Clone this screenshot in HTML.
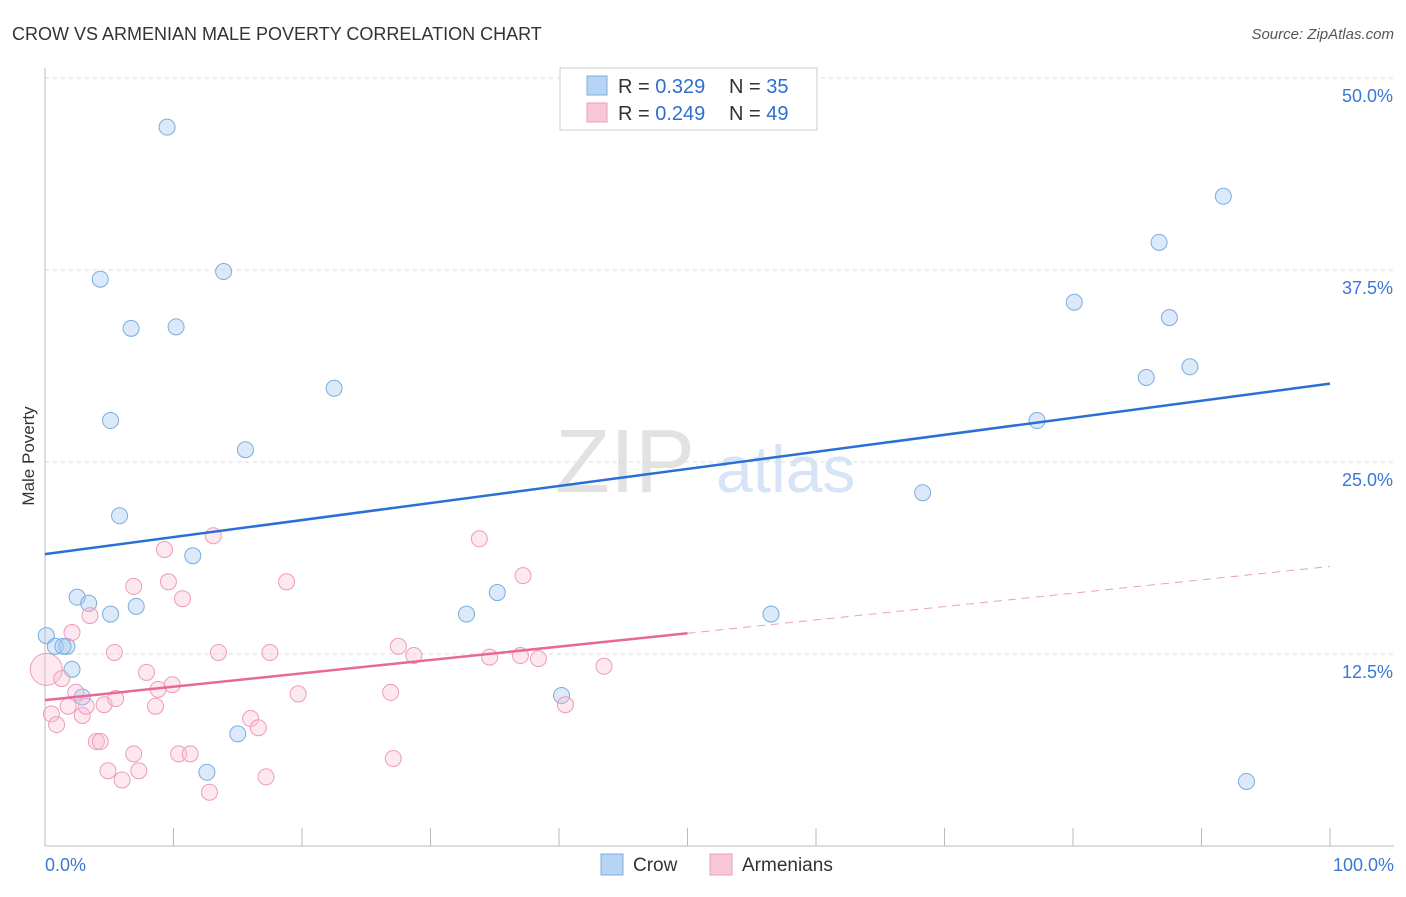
<!DOCTYPE html>
<html><head><meta charset="utf-8"><style>
body{margin:0;background:#fff;font-family:"Liberation Sans",sans-serif;}
svg text{font-family:"Liberation Sans",sans-serif;}
</style></head><body>
<svg id="chart" width="1406" height="892">
<text x="12" y="40" font-size="18" fill="#333">CROW VS ARMENIAN MALE POVERTY CORRELATION CHART</text>
<text x="1394" y="39" font-size="15" fill="#555" font-style="italic" text-anchor="end">Source: ZipAtlas.com</text>
<text x="34" y="456" font-size="17" fill="#333" transform="rotate(-90 34 456)" text-anchor="middle">Male Poverty</text>
<g><text x="555" y="492" font-size="90" fill="#e2e2e2" font-family="Liberation Serif,serif">ZIP</text><text x="716" y="492" font-size="66" fill="#d6e4f5">atlas</text></g>
<g id="grid"></g><g id="marks"></g>
<g>
<rect x="560" y="68" width="257" height="62" fill="#fff" stroke="#ccc"/>
<rect x="587" y="76" width="20" height="19" fill="#b8d4f4" stroke="#7aaee0"/>
<rect x="587" y="103" width="20" height="19" fill="#f9c8d8" stroke="#ee9bb8"/>
<text x="618" y="93" font-size="20" fill="#333">R = <tspan fill="#2f6fd0">0.329</tspan></text>
<text x="729" y="93" font-size="20" fill="#333">N = <tspan fill="#2f6fd0">35</tspan></text>
<text x="618" y="120" font-size="20" fill="#333">R = <tspan fill="#2f6fd0">0.249</tspan></text>
<text x="729" y="120" font-size="20" fill="#333">N = <tspan fill="#2f6fd0">49</tspan></text>
</g>
<g>
<rect x="601" y="854" width="22" height="21" fill="#b8d4f4" stroke="#7aaee0"/><text x="633" y="871" font-size="19" fill="#333">Crow</text>
<rect x="710" y="854" width="22" height="21" fill="#f9c8d8" stroke="#ee9bb8"/><text x="742" y="871" font-size="19" fill="#333">Armenians</text>
</g>
</svg>
<script>
const yTicks=[12.5,25,37.5,50];
const yTickLabels=["12.5%","25.0%","37.5%","50.0%"];
const xTickLabels=["0.0%","100.0%"];
const crowX=[9.5,4.3,13.9,6.7,10.2,22.5,5.1,15.6,5.8,11.5,2.5,3.4,5.1,7.1,0.1,0.8,1.7,2.1,2.9,15.0,12.6,32.8,35.2,40.2,56.5,68.3,77.2,80.1,85.7,86.7,87.5,89.1,91.7,93.5,1.4];
const crowY=[46.8,36.9,37.4,33.7,33.8,29.8,27.7,25.8,21.5,18.9,16.2,15.8,15.1,15.6,13.7,13.0,13.0,11.5,9.7,7.3,4.8,15.1,16.5,9.8,15.1,23.0,27.7,35.4,30.5,39.3,34.4,31.2,42.3,4.2,13.0];
const armX=[0.1,0.5,0.9,1.3,1.8,2.1,2.4,2.9,3.2,3.5,4.0,4.3,4.6,4.9,5.4,5.5,6.0,6.9,6.9,7.3,7.9,8.6,8.8,9.3,9.6,9.9,10.4,10.7,11.3,12.8,13.1,13.5,16.0,16.6,17.2,17.5,18.8,19.7,26.9,27.1,27.5,28.7,33.8,34.6,37.0,37.2,38.4,40.5,43.5];
const armY=[11.5,8.6,7.9,10.9,9.1,13.9,10.0,8.5,9.1,15.0,6.8,6.8,9.2,4.9,12.6,9.6,4.3,16.9,6.0,4.9,11.3,9.1,10.2,19.3,17.2,10.5,6.0,16.1,6.0,3.5,20.2,12.6,8.3,7.7,4.5,12.6,17.2,9.9,10.0,5.7,13.0,12.4,20.0,12.3,12.4,17.6,12.2,9.2,11.7];
const crowTrend=[19.0,30.1];
const armTrend=[9.5,18.2];
const NS="http://www.w3.org/2000/svg";
const sx=v=>45+v*12.85, sy=v=>846-v*15.36;
function mk(t,a,p){const e=document.createElementNS(NS,t);for(const k in a)e.setAttribute(k,a[k]);p.appendChild(e);return e;}
const g=document.getElementById('grid'), m=document.getElementById('marks');
yTicks.forEach((t,i)=>{
 const l=mk('line',{x1:45,x2:1394,y1:sy(t),y2:sy(t),stroke:'#ddd','stroke-dasharray':'4,4'},g);
 
 
 const tx=mk('text',{x:1393,y:sy(t)+24,'font-size':18,fill:'#3a78d4','text-anchor':'end'},g);
 tx.textContent=yTickLabels[i];
 
 
});
const ax=mk('line',{x1:45,x2:1394,y1:846,y2:846,stroke:'#bbb'},g);


const ay=mk('line',{x1:45,x2:45,y1:68,y2:846,stroke:'#bbb'},g);


for(let i=0;i<=10;i++){const t=mk('line',{x1:sx(i*10),x2:sx(i*10),y1:828,y2:846,stroke:'#bbb'},g);
 
 }
[[0,'start',45],[100,'end',1394]].forEach((d,i)=>{const t=mk('text',{x:d[2],y:871,'font-size':18,fill:'#3a78d4','text-anchor':d[1]},g);t.textContent=xTickLabels[i];
 
 });
crowX.forEach((x,i)=>{const c=mk('circle',{cx:sx(x),cy:sy(crowY[i]),r:8,fill:'rgba(164,200,240,0.4)',stroke:'#7aaee0','stroke-width':1},m);
 
 });
armX.forEach((x,i)=>{const c=mk('circle',{cx:sx(x),cy:sy(armY[i]),r:i==0?16:8,fill:'rgba(248,188,208,0.35)',stroke:'#ee9bb8','stroke-width':1},m);
 
 });
const bl=mk('line',{x1:sx(0),y1:sy(crowTrend[0]),x2:sx(100),y2:sy(crowTrend[1]),stroke:'#2a6fd6','stroke-width':2.5},m);


const mid=armTrend[0]+(armTrend[1]-armTrend[0])*0.5;
const pl=mk('line',{x1:sx(0),y1:sy(armTrend[0]),x2:sx(50),y2:sy(mid),stroke:'#e8689a','stroke-width':2.5},m);


const pd=mk('line',{x1:sx(50),y1:sy(mid),x2:sx(100),y2:sy(armTrend[1]),stroke:'#eaa0bb','stroke-width':1,'stroke-dasharray':'8,6'},m);


</script>
</body></html>
